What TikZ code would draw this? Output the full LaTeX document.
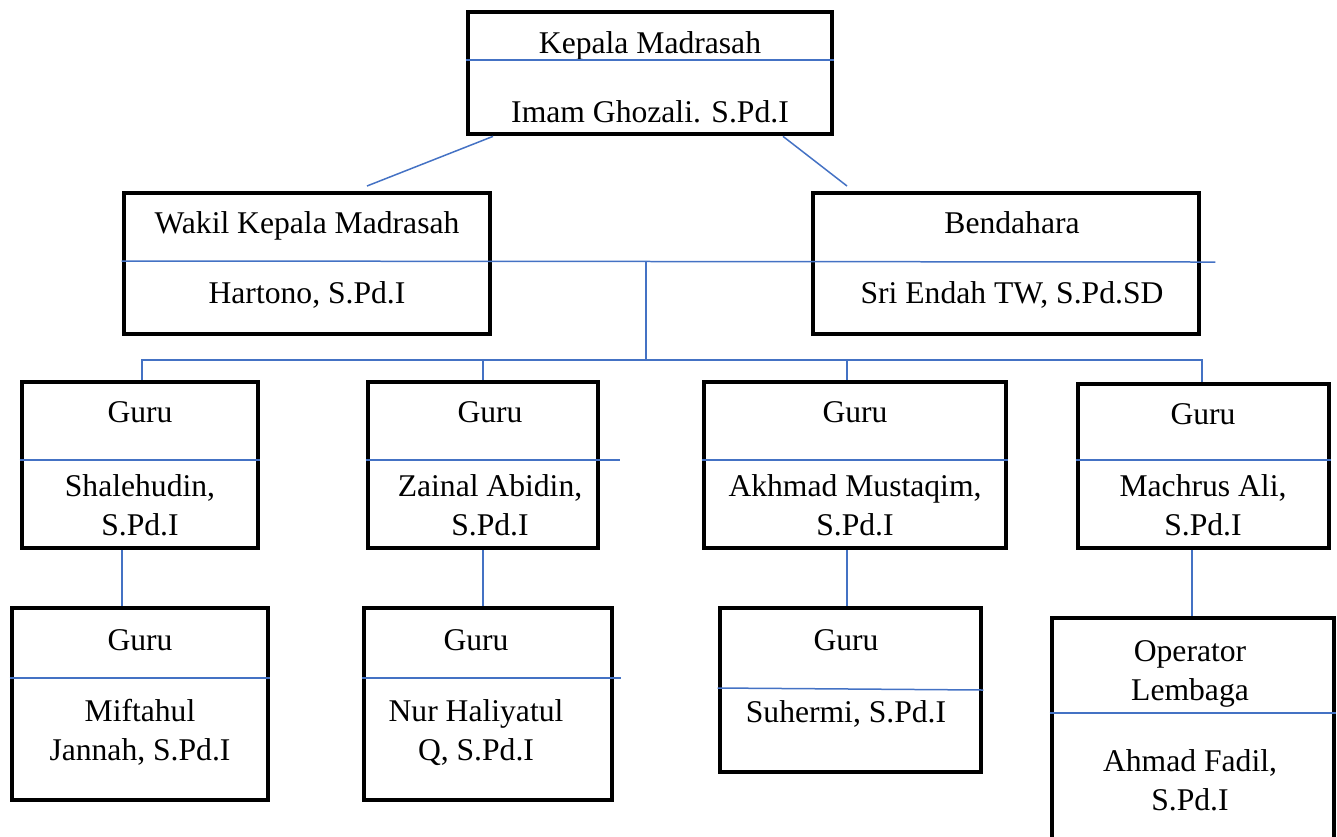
\documentclass[tikz,border=0pt]{standalone}
\usepackage{fontspec}
\setmainfont{Liberation Serif}
\usetikzlibrary{positioning}
\definecolor{linkblue}{RGB}{68,114,196}

\begin{document}
\begin{tikzpicture}[%
    x=0.02cm, y=-0.02cm,
    post/.style={%
        draw,
        rectangle,
        line width=0.095cm,
        inner sep=0pt
    },
    label/.style={%
        anchor=base,
        align=center,
        inner sep=0pt,
        font=\fontsize{18}{22}\selectfont
    },
    divider/.style={%
        draw=linkblue,
        line width=0.03cm
    },
    link/.style={%
        draw=linkblue,
        line width=0.03cm
    }
]
\useasboundingbox (0,0) rectangle (1337,836);

% Kepala Madrasah
\node[post, minimum width=7.28cm, minimum height=2.44cm] (kepala) at (650,73) {};
\node[label] (kepalaTitle) at (650,53) {Kepala Madrasah};
\node[label] (kepalaName) at (650,122) {Imam Ghozali. S.Pd.I};

% Wakil and Bendahara
\node[post, minimum width=7.32cm, minimum height=2.82cm] (wakil) at (307,263.5) {};
\node[label] (wakilTitle) at (307,233) {Wakil Kepala Madrasah};
\node[label] (wakilName) at (307,303) {Hartono, S.Pd.I};

\node[post, minimum width=7.72cm, minimum height=2.82cm] (bendahara) at (1006,263.5) {};
\node[label] (bendaharaTitle) at (1012,233) {Bendahara};
\node[label] (bendaharaName) at (1012,303) {Sri Endah TW, S.Pd.SD};

% Guru, first row (last line on the given baseline)
\node[post, minimum width=4.72cm, minimum height=3.32cm] (guruA) at (140,465) {};
\node[label] (guruATitle) at (140,422) {Guru};
\node[label] (guruAName) at (140,535) {Shalehudin,\\S.Pd.I};

\node[post, minimum width=4.6cm, minimum height=3.32cm] (guruB) at (483,465) {};
\node[label] (guruBTitle) at (490,422) {Guru};
\node[label] (guruBName) at (490,535) {Zainal Abidin,\\S.Pd.I};

\node[post, minimum width=6.04cm, minimum height=3.32cm] (guruC) at (855,465) {};
\node[label] (guruCTitle) at (855,422) {Guru};
\node[label] (guruCName) at (855,535) {Akhmad Mustaqim,\\S.Pd.I};

\node[post, minimum width=5.02cm, minimum height=3.28cm] (guruD) at (1203.5,466) {};
\node[label] (guruDTitle) at (1203,424) {Guru};
\node[label] (guruDName) at (1203,535) {Machrus Ali,\\S.Pd.I};

% Guru, second row
\node[post, minimum width=5.12cm, minimum height=3.84cm] (miftah) at (140,704) {};
\node[label] (miftahTitle) at (140,650) {Guru};
\node[label] (miftahName) at (140,760) {Miftahul\\Jannah, S.Pd.I};

\node[post, minimum width=4.96cm, minimum height=3.84cm] (nur) at (488,704) {};
\node[label] (nurTitle) at (476,650) {Guru};
\node[label] (nurName) at (476,760) {Nur Haliyatul\\Q, S.Pd.I};

\node[post, minimum width=5.22cm, minimum height=3.28cm] (suhermi) at (850.5,690) {};
\node[label] (suhermiTitle) at (846,650) {Guru};
\node[label] (suhermiName) at (846,722) {Suhermi, S.Pd.I};

\node[post, minimum width=5.64cm, minimum height=4.84cm] (operator) at (1193,739) {};
\node[label] (operatorTitle) at (1190,700) {Operator\\Lembaga};
\node[label] (operatorName) at (1190,810) {Ahmad Fadil,\\S.Pd.I};

% Dividers
\draw[divider] (kepala.west |- 0,60) -- (kepala.east |- 0,60);
\draw[divider] (wakil.west |- 0,261) -- (bendahara.east |- 0,262) -- ++(14,0);
\draw[divider] (guruA.west |- 0,460) -- (guruA.east |- 0,460);
\draw[divider] (guruB.west |- 0,460) -- ([xshift=0.4cm]guruB.east |- 0,460);
\draw[divider] (guruC.west |- 0,460) -- (guruC.east |- 0,460);
\draw[divider] (guruD.west |- 0,460) -- (guruD.east |- 0,460);
\draw[divider] (miftah.west |- 0,678) -- (miftah.east |- 0,678);
\draw[divider] (nur.west |- 0,678) -- ([xshift=0.14cm]nur.east |- 0,678);
\draw[divider] (suhermi.west |- 0,688) -- (suhermi.east |- 0,690);
\draw[divider] (operator.west |- 0,713) -- (operator.east |- 0,713);

% Connectors
\coordinate (wakilIn) at (367,186);
\coordinate (bendaharaIn) at (847,186);
\coordinate (branchTop) at (646,262);
\coordinate (branch) at (646,360);

\draw[link] (kepala.south -| 493,0) -- (wakilIn);
\draw[link] (kepala.south -| 783,0) -- (bendaharaIn);
\draw[link] (branchTop) -- (branch);
\draw[link] (guruA.north -| 142,0) |- (branch) -| (guruD.north -| 1202,0);
\draw[link] (branch -| guruB.north) -- (guruB.north);
\draw[link] (branch -| 847,0) -- (guruC.north -| 847,0);

\draw[link] (guruA.south -| 122,0) -- (miftah.north -| 122,0);
\draw[link] (guruB.south) -- (guruB.south |- nur.north);
\draw[link] (guruC.south -| 847,0) -- (suhermi.north -| 847,0);
\draw[link] (guruD.south -| 1192,0) -- (operator.north -| 1192,0);

\end{tikzpicture}
\end{document}
